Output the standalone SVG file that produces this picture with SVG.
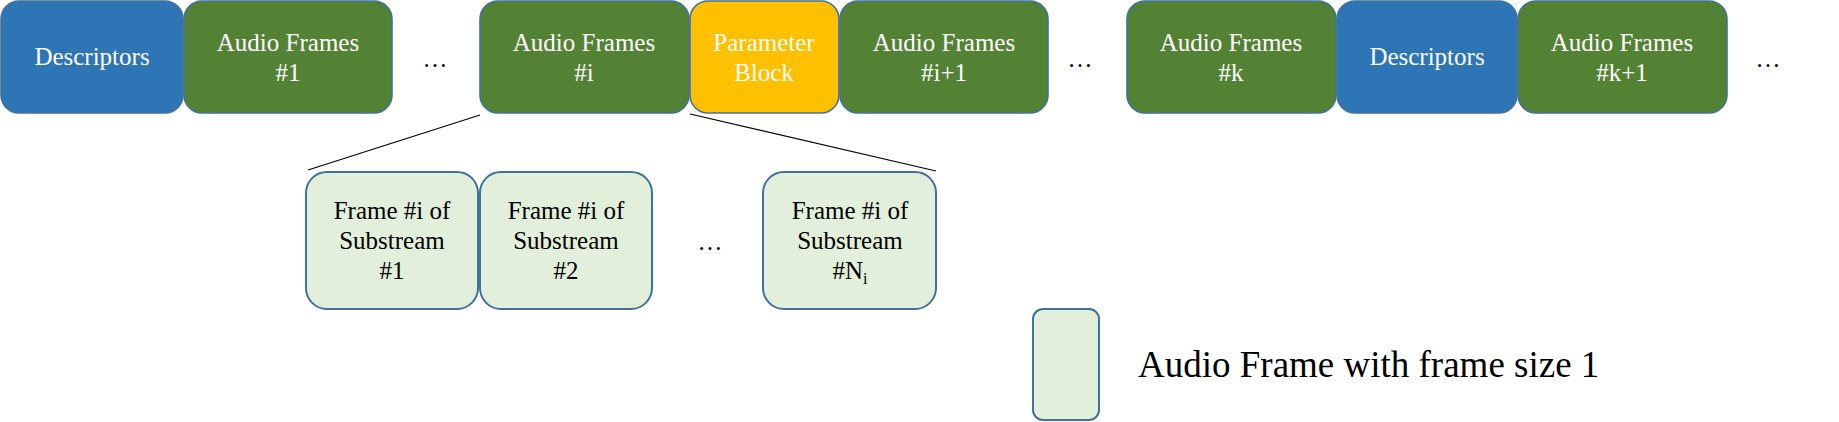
<svg xmlns="http://www.w3.org/2000/svg" width="1839" height="422" viewBox="0 0 1839 422" font-family="'Liberation Serif', 'Times New Roman', serif">
<style>
.box{stroke:#41719C;stroke-width:1.6}
.desc{fill:#2E75B6}
.af{fill:#548235}
.pb{fill:#FFC000}
.sub{fill:#E2EFDA;stroke-width:2}
.t{font-size:25px;text-anchor:middle}
.w{fill:#FFFFFF}
.k{fill:#000000}
.conn{stroke:#000000;stroke-width:1.1;fill:none}
</style>
<rect width="1839" height="422" fill="#FFFFFF"/>
<g id="connectors">
<line class="conn" x1="480" y1="115" x2="308" y2="170"/>
<line class="conn" x1="690" y1="114" x2="936" y2="171"/>
</g>
<g id="desc1">
<rect class="box desc" x="1" y="1" width="182" height="112" rx="18"/>
<text class="t w" font-family="Liberation Serif, serif" x="92" y="65">Descriptors</text>
</g>
<g id="af1">
<rect class="box af" x="184" y="1" width="208" height="112" rx="18"/>
<text class="t w" font-family="Liberation Serif, serif" x="288" y="51">Audio Frames</text>
<text class="t w" font-family="Liberation Serif, serif" x="288" y="81">#1</text>
</g>
<g id="dots1"><text class="t k" font-family="Liberation Serif, serif" x="435" y="67">…</text></g>
<g id="afi">
<rect class="box af" x="480" y="1" width="209" height="112" rx="18"/>
<text class="t w" font-family="Liberation Serif, serif" x="584" y="51">Audio Frames</text>
<text class="t w" font-family="Liberation Serif, serif" x="584" y="81">#i</text>
</g>
<g id="param">
<rect class="box pb" x="690" y="1" width="149" height="112" rx="18"/>
<text class="t w" font-family="Liberation Serif, serif" x="764" y="51">Parameter</text>
<text class="t w" font-family="Liberation Serif, serif" x="764" y="81">Block</text>
</g>
<g id="afi1">
<rect class="box af" x="840" y="1" width="208" height="112" rx="18"/>
<text class="t w" font-family="Liberation Serif, serif" x="944" y="51">Audio Frames</text>
<text class="t w" font-family="Liberation Serif, serif" x="944" y="81">#i+1</text>
</g>
<g id="dots2"><text class="t k" font-family="Liberation Serif, serif" x="1080" y="67">…</text></g>
<g id="afk">
<rect class="box af" x="1127" y="1" width="209" height="112" rx="18"/>
<text class="t w" font-family="Liberation Serif, serif" x="1231" y="51">Audio Frames</text>
<text class="t w" font-family="Liberation Serif, serif" x="1231" y="81">#k</text>
</g>
<g id="desc2">
<rect class="box desc" x="1337" y="1" width="180" height="112" rx="18"/>
<text class="t w" font-family="Liberation Serif, serif" x="1427" y="65">Descriptors</text>
</g>
<g id="afk1">
<rect class="box af" x="1518" y="1" width="209" height="112" rx="18"/>
<text class="t w" font-family="Liberation Serif, serif" x="1622" y="51">Audio Frames</text>
<text class="t w" font-family="Liberation Serif, serif" x="1622" y="81">#k+1</text>
</g>
<g id="dots3"><text class="t k" font-family="Liberation Serif, serif" x="1768" y="67">…</text></g>
<g id="sub1">
<rect class="box sub" x="306" y="172" width="172" height="137" rx="21"/>
<text class="t k" font-family="Liberation Serif, serif" x="392" y="219">Frame #i of</text>
<text class="t k" font-family="Liberation Serif, serif" x="392" y="249">Substream</text>
<text class="t k" font-family="Liberation Serif, serif" x="392" y="279">#1</text>
</g>
<g id="sub2">
<rect class="box sub" x="480" y="172" width="172" height="137" rx="21"/>
<text class="t k" font-family="Liberation Serif, serif" x="566" y="219">Frame #i of</text>
<text class="t k" font-family="Liberation Serif, serif" x="566" y="249">Substream</text>
<text class="t k" font-family="Liberation Serif, serif" x="566" y="279">#2</text>
</g>
<g id="dots4"><text class="t k" font-family="Liberation Serif, serif" x="710" y="250">…</text></g>
<g id="subN">
<rect class="box sub" x="763" y="172" width="173" height="137" rx="21"/>
<text class="t k" font-family="Liberation Serif, serif" x="850" y="219">Frame #i of</text>
<text class="t k" font-family="Liberation Serif, serif" x="850" y="249">Substream</text>
<text class="t k" font-family="Liberation Serif, serif" x="850" y="279">#N<tspan font-size="16" dy="5">i</tspan></text>
</g>
<g id="legend">
<rect class="box sub" x="1033" y="309" width="66" height="111" rx="10"/>
<text class="k" font-family="Liberation Serif, serif" font-size="37" x="1138" y="377">Audio Frame with frame size 1</text>
</g>
</svg>
